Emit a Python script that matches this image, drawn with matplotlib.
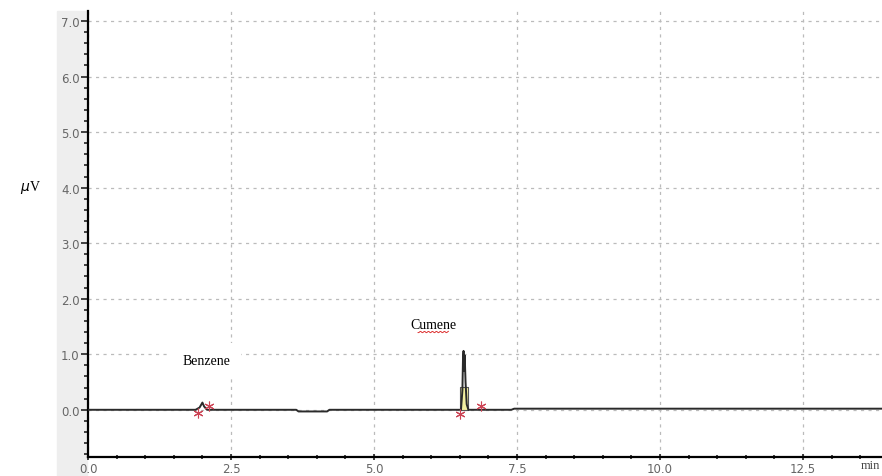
import matplotlib
matplotlib.use("Agg")
import matplotlib.pyplot as plt
import numpy as np
from matplotlib.patches import Rectangle
from matplotlib.ticker import MultipleLocator

# detector trace (min, uV)
trace_t = [0.0, 1.88, 1.95, 2.00, 2.03, 2.08, 3.64, 3.68, 4.18, 4.22,
           6.52, 6.545, 6.555, 6.565, 6.575, 6.585, 6.60, 6.62, 6.65, 7.40, 7.45, 13.9]
trace_v = [0.0, 0.0, 0.04, 0.13, 0.06, 0.0, 0.0, -0.03, -0.03, 0.0,
           0.0, 0.35, 0.9, 1.06, 0.7, 0.98, 0.5, 0.1, 0.0, 0.0, 0.02, 0.02]

# integrated area of cumene peak
area_t = [6.50, 6.64]
area_h = 0.41

# peak start / end markers
mark_t = [1.93, 2.12, 6.50, 6.87]
mark_v = [-0.06, 0.06, -0.08, 0.07]

peak_names = ["Benzene", "Cumene"]
label_t = [2.07, 6.04]
label_v = [0.88, 1.53]

fig = plt.figure(figsize=(8.82, 4.77), dpi=100)
# gray band behind y tick labels
band = Rectangle((57 / 882, 0), 30 / 882, 465 / 477, transform=fig.transFigure,
                 color="#eeeeee", zorder=-5)
fig.patches.append(band)
ax = fig.add_axes([88 / 882, 19 / 477, 1 - 88 / 882, 446 / 477])
ax.patch.set_alpha(0)

ax.plot(trace_t, trace_v, color="#2a2a2a", lw=1.4, zorder=3)
ax.fill_between(area_t, 0, area_h, facecolor="#f2efa0", edgecolor="#555555", lw=0.8, zorder=2)
ax.plot(mark_t, mark_v, ls="none", marker=(6, 2, 0), ms=7, mew=0.8, color="#cc4455", zorder=4)

for name, t, v in zip(peak_names, label_t, label_v):
    ax.text(t, v, name, family="Liberation Serif", fontsize=10, ha="center", va="center",
            bbox=dict(facecolor="white", edgecolor="none", pad=8), zorder=5)
# spell-check squiggle under Cumene
sq = np.linspace(5.77, 6.3, 40)
ax.plot(sq, 1.40 + 0.012 * np.sin(sq * 90), color="#dd3333", lw=0.7, zorder=6)

ax.set_xlim(0, 13.88)
ax.set_ylim(-0.85, 7.18)
ax.xaxis.set_major_locator(MultipleLocator(2.5))
ax.xaxis.set_minor_locator(MultipleLocator(0.5))
ax.yaxis.set_major_locator(MultipleLocator(1.0))
ax.yaxis.set_minor_locator(MultipleLocator(0.2))
ax.set_yticks(np.arange(0, 7.5, 1.0))
ax.set_xticks(np.arange(0, 13.9, 2.5))
ax.set_xticklabels(["%.1f" % v for v in np.arange(0, 13.9, 2.5)])
ax.set_yticklabels(["%.1f" % v for v in np.arange(0, 7.5, 1.0)])
ax.tick_params(which="major", length=5, width=1.2, color="#222222", labelsize=8.5,
               labelcolor="#666666", pad=1)
ax.tick_params(which="minor", length=3, width=1.2, color="#222222")
ax.tick_params(axis="x", which="both", direction="inout")

ax.grid(True, which="major", ls=(0, (2.5, 3.5)), color="#bbbbbb", lw=0.9)
for s in ["top", "right"]:
    ax.spines[s].set_visible(False)
ax.spines["left"].set_linewidth(1.6)
ax.spines["bottom"].set_linewidth(1.6)

fig.text(880 / 882, 1 - 466 / 477, "min", family="Liberation Serif", fontsize=9,
         ha="right", va="center", color="#444444")
fig.text(30 / 882, 1 - 187 / 477, r"$\mu$V", family="Liberation Serif", fontsize=10,
         ha="center", va="center")

fig.savefig("out.png", dpi=100)
